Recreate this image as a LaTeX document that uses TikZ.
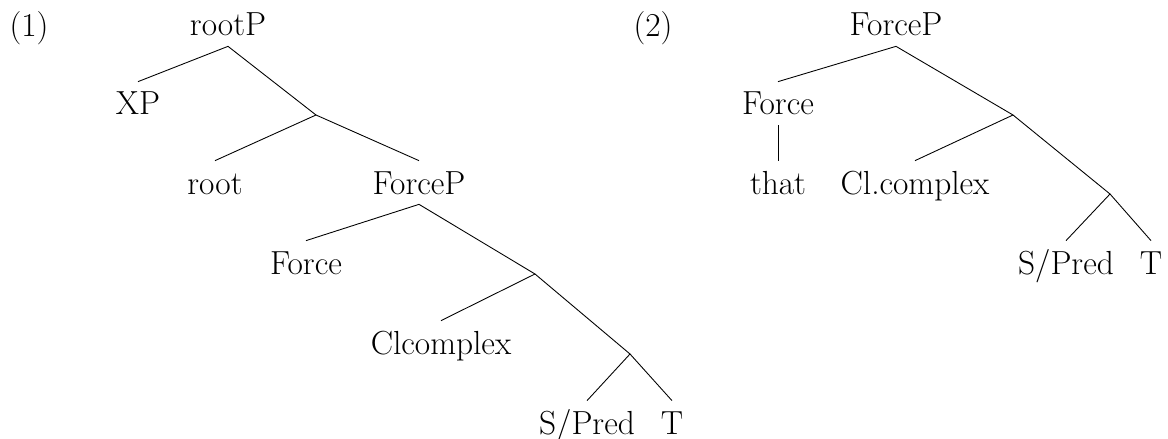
\documentclass[tikz,border=0pt]{standalone}
\usepackage{tikz}
\usetikzlibrary{positioning}

\begin{document}
\begin{tikzpicture}[
    font=\fontsize{19}{23}\selectfont,
    lbl/.style={anchor=base, inner sep=0pt, text height=0.66cm, text depth=0.2cm},
    exnum/.style={anchor=base, inner sep=0pt},
    branch/.style={line width=0.5pt}
]

\useasboundingbox (0,0) rectangle (23.36,-8.78);

% Tree (1)
\node[exnum] (num1) at (0.58,-0.74) {(1)};
\node[lbl] (rootP) at (4.56,-0.72) {rootP};
\node[lbl] (xp) at (2.76,-2.30) {XP};
\coordinate (ra) at (6.32,-2.30);
\node[lbl] (root) at (4.30,-3.88) {root};
\node[lbl] (forceP) at (8.38,-3.88) {ForceP};
\node[lbl] (force) at (6.12,-5.48) {Force};
\coordinate (ra2) at (10.70,-5.48);
\node[lbl] (clc) at (8.82,-7.08) {Clcomplex};
\coordinate (ra3) at (12.60,-7.08);
\node[lbl] (spred) at (11.74,-8.68) {S/Pred};
\node[lbl] (tt) at (13.44,-8.68) {T};

\draw[branch] (xp.north) -- (rootP.south) -- (ra);
\draw[branch] (root.north) -- (ra) -- (forceP.north);
\draw[branch] (force.north) -- (forceP.south) -- (ra2);
\draw[branch] (clc.north) -- (ra2) -- (ra3);
\draw[branch] (spred.north) -- (ra3) -- (tt.north);

% Tree (2)
\node[exnum] (num2) at (13.06,-0.74) {(2)};
\node[lbl] (forcePb) at (17.92,-0.72) {ForceP};
\node[lbl] (forceb) at (15.56,-2.30) {Force};
\coordinate (rb) at (20.26,-2.30);
\node[lbl] (that) at (15.56,-3.88) {that};
\node[lbl] (clcb) at (18.30,-3.88) {Cl.complex};
\coordinate (rb2) at (22.20,-3.88);
\node[lbl] (spredb) at (21.32,-5.48) {S/Pred};
\node[lbl] (ttb) at (23.02,-5.48) {T};

\draw[branch] (forceb.north) -- (forcePb.south) -- (rb);
\draw[branch] (forceb.south) -- (that.north);
\draw[branch] (clcb.north) -- (rb) -- (rb2);
\draw[branch] (spredb.north) -- (rb2) -- (ttb.north);

\end{tikzpicture}
\end{document}
